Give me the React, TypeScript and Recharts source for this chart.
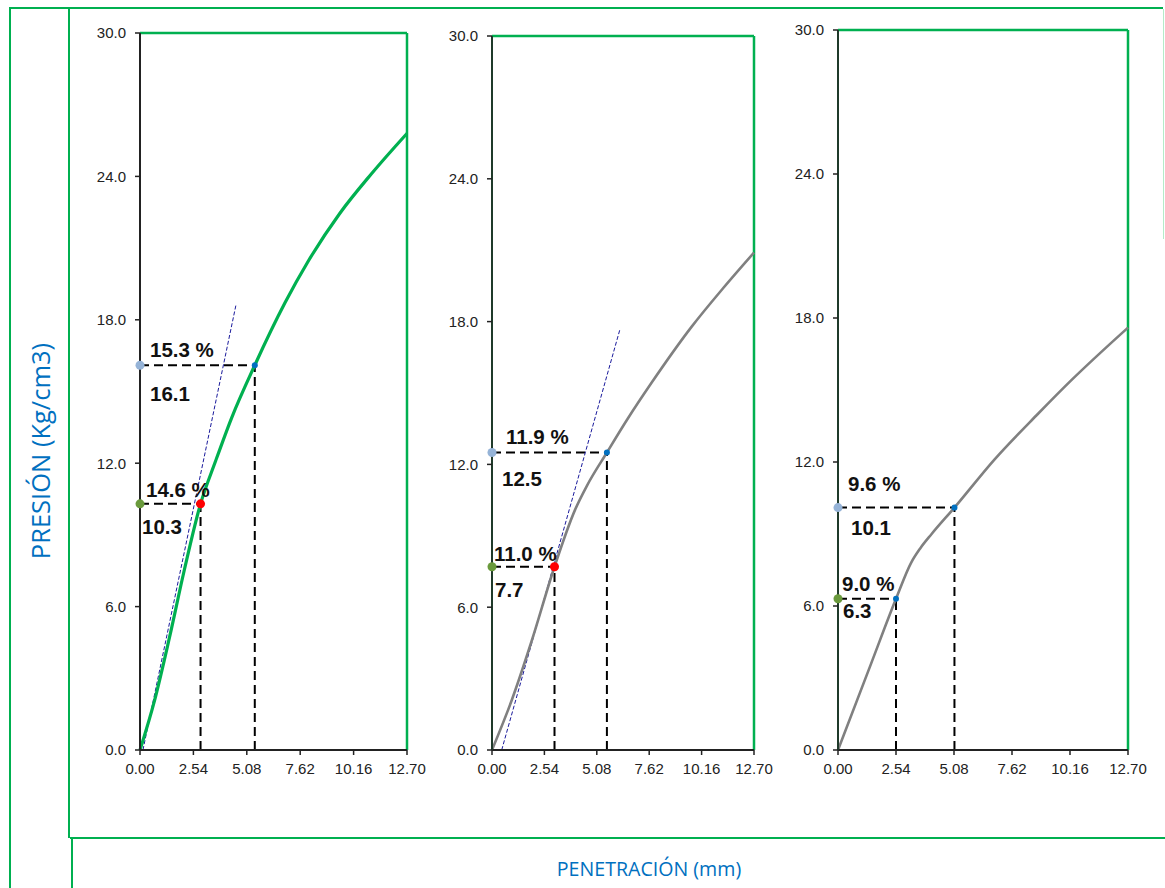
import React from 'react';
import { LineChart, Line, XAxis, YAxis, ReferenceLine, ReferenceDot } from 'recharts';

// ---------- data ----------
const xTicks = [0, 2.54, 5.08, 7.62, 10.16, 12.7];
const yTicks = [0, 6, 12, 18, 24, 30];

// Panel 1 (green curve)
const penetration1 = [0, 0.7, 1.4, 2.1, 2.88, 3.6, 4.36, 5.46, 6.89, 8.0, 9.5, 11.0, 12.7];
const pressure1 = [0, 2.1, 4.7, 7.5, 10.3, 12.1, 13.9, 16.1, 18.7, 20.45, 22.45, 24.1, 25.8];
const tangentX1 = [0.14, 4.56];
const tangentY1 = [0, 18.6];
const pointX1 = [2.88, 5.46];
const pointY1 = [10.3, 16.1];
const pctText1 = ['14.6 %', '15.3 %'];
const valText1 = ['10.3', '16.1'];

// Panel 2 (grey curve)
const penetration2 = [0, 0.96, 1.93, 3.03, 4.03, 4.6, 5.57, 6.6, 7.75, 9.69, 11.2, 12.7];
const pressure2 = [0, 2.1, 4.6, 7.7, 10.1, 11.1, 12.5, 13.95, 15.45, 17.8, 19.4, 20.9];
const tangentX2 = [0.47, 6.21];
const tangentY2 = [0, 17.7];
const pointX2 = [3.03, 5.57];
const pointY2 = [7.7, 12.5];
const pctText2 = ['11.0 %', '11.9 %'];
const valText2 = ['7.7', '12.5'];

// Panel 3 (grey curve)
const penetration3 = [0, 1.45, 2.54, 3.2, 3.6, 4.1, 5.1, 6.85, 8.75, 10.21, 12.7];
const pressure3 = [0, 3.6, 6.3, 7.8, 8.4, 9.0, 10.1, 12.1, 14.0, 15.4, 17.6];
const pointX3 = [2.54, 5.1];
const pointY3 = [6.3, 10.1];
const pctText3 = ['9.0 %', '9.6 %'];
const valText3 = ['6.3', '10.1'];

const toPts = (xs: number[], ys: number[]) => xs.map((x, i) => ({ x, y: ys[i] }));

// ---------- layout / style ----------
const GREEN = '#00B050';
const TICK_FONT = '"Liberation Sans", Arial, sans-serif';

type Offs = { pct: [number, number]; val: [number, number] };

interface PanelProps {
  box: { l: number; t: number; r: number; b: number };
  curve: { x: number; y: number }[];
  curveColor: string;
  curveWidth: number;
  tangent?: { x: number; y: number }[];
  px: number[];
  py: number[];
  pct: string[];
  val: string[];
  offs: Offs[];
  red: boolean[];
  axisColor: string;
}

const makeLabel = (pct: string, val: string, o: Offs) => (props: any) => {
  const vb = props.viewBox || {};
  const cx = (vb.x ?? 0) + (vb.width ?? 0) / 2;
  const cy = (vb.y ?? 0) + (vb.height ?? 0) / 2;
  const st = { fontFamily: TICK_FONT, fontWeight: 700, fontSize: 20.5, fill: '#111' } as any;
  return (
    <g>
      <text x={cx + o.pct[0]} y={cy + o.pct[1]} style={st}>{pct}</text>
      <text x={cx + o.val[0]} y={cy + o.val[1]} style={st}>{val}</text>
    </g>
  );
};

function Panel(p: PanelProps) {
  const { box } = p;
  const mTop = 10, mRight = 30, mBottom = 5, yW = 60, xH = 34;
  const left = box.l - yW;
  const top = box.t - mTop;
  const width = box.r - box.l + yW + mRight;
  const height = box.b - box.t + mTop + mBottom + xH;
  return (
    <div style={{ position: 'absolute', left, top }}>
      <LineChart width={width} height={height} margin={{ top: mTop, right: mRight, bottom: mBottom, left: 0 }}>
        <XAxis
          type="number"
          dataKey="x"
          domain={[0, 12.7]}
          ticks={xTicks}
          interval={0}
          tickFormatter={(v: number) => v.toFixed(2)}
          height={xH}
          axisLine={{ stroke: '#222', strokeWidth: 2 }}
          tickLine={{ stroke: '#222', strokeWidth: 1.5 }}
          tickSize={5}
          tickMargin={8}
          tick={{ fill: '#222', fontSize: 15, fontFamily: TICK_FONT }}
        />
        <YAxis
          type="number"
          dataKey="y"
          domain={[0, 30]}
          ticks={yTicks}
          interval={0}
          tickFormatter={(v: number) => v.toFixed(1)}
          width={yW}
          axisLine={{ stroke: p.axisColor, strokeWidth: 2 }}
          tickLine={{ stroke: '#222', strokeWidth: 1.5 }}
          tickSize={5}
          tickMargin={9}
          tick={{ fill: '#222', fontSize: 15, fontFamily: TICK_FONT }}
        />
        <ReferenceLine y={30} stroke={GREEN} strokeWidth={2.5} ifOverflow="visible" />
        <ReferenceLine x={12.7} stroke={GREEN} strokeWidth={2.5} ifOverflow="visible" />
        {p.px.map((x, i) => (
          <ReferenceLine
            key={'h' + i}
            segment={[{ x: 0, y: p.py[i] }, { x, y: p.py[i] }]}
            stroke="#000"
            strokeWidth={2}
            strokeDasharray="9 5"
            ifOverflow="visible"
          />
        ))}
        {p.px.map((x, i) => (
          <ReferenceLine
            key={'v' + i}
            segment={[{ x, y: 0 }, { x, y: p.py[i] }]}
            stroke="#000"
            strokeWidth={2}
            strokeDasharray="9 5"
            ifOverflow="visible"
          />
        ))}
        {p.tangent && (
          <Line
            data={p.tangent}
            dataKey="y"
            type="linear"
            stroke="#1A1A9C"
            strokeWidth={1}
            strokeDasharray="4 2"
            dot={false}
            activeDot={false}
            isAnimationActive={false}
          />
        )}
        <Line
          data={p.curve}
          dataKey="y"
          type="monotone"
          stroke={p.curveColor}
          strokeWidth={p.curveWidth}
          dot={false}
          activeDot={false}
          isAnimationActive={false}
        />
        {p.px.map((x, i) =>
          p.red[i] ? (
            <ReferenceDot key={'r' + i} x={x} y={p.py[i]} r={4.5} fill="#FF0000" stroke="none" ifOverflow="visible" />
          ) : null
        )}
        {p.px.map((x, i) =>
          !p.red[i] ? (
            <ReferenceDot key={'b' + i} x={x} y={p.py[i]} r={3} fill="#0070C0" stroke="none" ifOverflow="visible" />
          ) : null
        )}
        {p.py.map((y, i) => (
          <ReferenceDot
            key={'a' + i}
            x={0}
            y={y}
            r={4.5}
            fill={i === 0 ? '#6A9A3C' : '#95B3D7'}
            stroke="none"
            ifOverflow="visible"
            label={makeLabel(p.pct[i], p.val[i], p.offs[i])}
          />
        ))}
      </LineChart>
    </div>
  );
}

const frameLine = (style: React.CSSProperties) => (
  <div style={{ position: 'absolute', background: GREEN, ...style }} />
);

export default function App() {
  return (
    <div style={{ position: 'absolute', left: 0, top: 0, width: 1165, height: 888, background: '#fff', overflow: 'hidden' }}>
      {frameLine({ left: 10, top: 7, width: 1153, height: 2 })}
      {frameLine({ left: 9, top: 7, width: 2, height: 881 })}
      {frameLine({ left: 68, top: 7, width: 2, height: 831 })}
      {frameLine({ left: 71, top: 838, width: 2, height: 50 })}
      {frameLine({ left: 70, top: 837, width: 1095, height: 2 })}
      <div style={{ position: 'absolute', left: 1163, top: 9, width: 1, height: 230, background: '#B5EBC8' }} />

      <div
        style={{
          position: 'absolute',
          left: 40,
          top: 451,
          transform: 'translate(-50%, -50%) rotate(-90deg)',
          whiteSpace: 'nowrap',
          fontFamily: '"Open Sans", sans-serif',
          fontSize: 25.5,
          color: '#0070C0',
        }}
      >
        PRESIÓN (Kg/cm3)
      </div>
      <div
        style={{
          position: 'absolute',
          left: 649,
          top: 868,
          transform: 'translate(-50%, -50%)',
          whiteSpace: 'nowrap',
          fontFamily: '"Open Sans", sans-serif',
          fontSize: 19.6,
          color: '#0070C0',
        }}
      >
        PENETRACIÓN (mm)
      </div>

      <Panel
        box={{ l: 140, t: 33, r: 407, b: 750 }}
        curve={toPts(penetration1, pressure1)}
        curveColor={GREEN}
        curveWidth={3.2}
        tangent={toPts(tangentX1, tangentY1)}
        px={pointX1}
        py={pointY1}
        pct={pctText1}
        val={valText1}
        offs={[
          { pct: [6, -7], val: [2, 30] },
          { pct: [10, -8], val: [10, 36] },
        ]}
        red={[true, false]}
        axisColor="#222"
      />
      <Panel
        box={{ l: 492, t: 36, r: 754, b: 750 }}
        curve={toPts(penetration2, pressure2)}
        curveColor="#808080"
        curveWidth={2.6}
        tangent={toPts(tangentX2, tangentY2)}
        px={pointX2}
        py={pointY2}
        pct={pctText2}
        val={valText2}
        offs={[
          { pct: [2, -6], val: [3, 30] },
          { pct: [14, -9], val: [10, 33] },
        ]}
        red={[true, false]}
        axisColor="#1F3A2A"
      />
      <Panel
        box={{ l: 838, t: 30, r: 1128, b: 750 }}
        curve={toPts(penetration3, pressure3)}
        curveColor="#808080"
        curveWidth={2.6}
        px={pointX3}
        py={pointY3}
        pct={pctText3}
        val={valText3}
        offs={[
          { pct: [4, -8], val: [5, 19] },
          { pct: [10, -17], val: [13, 27] },
        ]}
        red={[false, false]}
        axisColor="#1F3A2A"
      />
    </div>
  );
}
